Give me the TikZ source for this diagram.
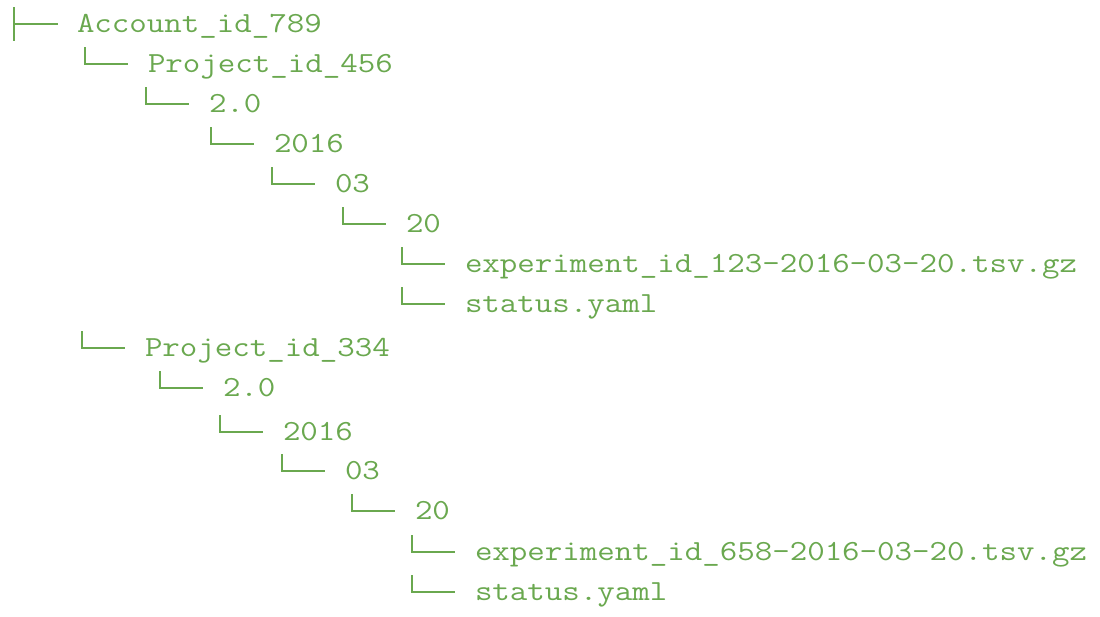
\documentclass[tikz,border=0pt]{standalone}
\usepackage{fontspec}
\setmonofont[FakeStretch=1.165]{Latin Modern Mono}
\usetikzlibrary{calc}
\definecolor{treegreen}{RGB}{106,168,79}

\begin{document}
\begin{tikzpicture}[
    x=1pt, y=-1pt,
    every node/.style={font=\ttfamily\fontsize{29.15}{30}\selectfont, text=treegreen,
                       anchor=base west, inner sep=0pt, outer sep=0pt},
    branch/.style={draw=treegreen, line width=2.4pt},
]
\useasboundingbox (0,0) rectangle (1100,616);
% first project
\node (acct)    at (77,32)   {Account\_id\_789};
\node (proj456) at (148,72)  {Project\_id\_456};
\node (ver456)  at (209,112) {2.0};
\node (yr456)   at (274,152) {2016};
\node (mo456)   at (335,192) {03};
\node (day456)  at (406,232) {20};
\node (exp123)  at (465,272) {experiment\_id\_123-2016-03-20.tsv.gz};
\node (stat123) at (465,312) {status.yaml};
% second project
\node (proj334) at (145,356) {Project\_id\_334};
\node (ver334)  at (223,396) {2.0};
\node (yr334)   at (283,440) {2016};
\node (mo334)   at (345,479) {03};
\node (day334)  at (415,519) {20};
\node (exp658)  at (475,560) {experiment\_id\_658-2016-03-20.tsv.gz};
\node (stat658) at (475,600) {status.yaml};
% branch marks in front of each entry
\draw[branch] ($(acct.base west)+(-63,-25)$) -- ($(acct.base west)+(-63,9)$);
\draw[branch] ($(acct.base west)+(-63,-8)$) -- ($(acct.base west)+(-19,-8)$);
\foreach \n in {proj456, ver456, yr456, mo456, day456, exp123, stat123,
                proj334, ver334, yr334, mo334, day334, exp658, stat658}
  \draw[branch] ($(\n.base west)+(-63,-25)$) |- ($(\n.base west)+(-20,-8)$);
\end{tikzpicture}
\end{document}
